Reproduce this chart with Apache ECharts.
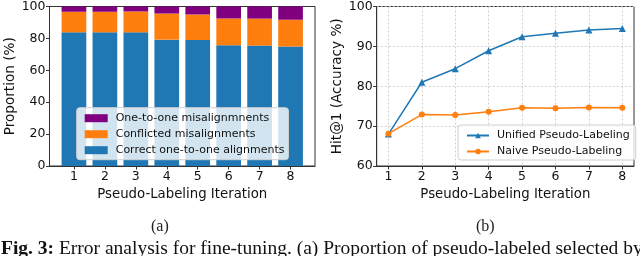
<!DOCTYPE html>
<html>
<head>
<meta charset="utf-8">
<script src="https://cdn.jsdelivr.net/npm/echarts@6/dist/echarts.min.js"></script>
<style>html,body{margin:0;padding:0;background:#fff;}#c{width:640px;height:256px;}</style>
</head>
<body>
<div id="c"></div>
<script>
const iterations = [1, 2, 3, 4, 5, 6, 7, 8];
const correctAlign = [83.8, 83.8, 83.8, 79.2, 79.0, 75.7, 75.5, 74.9];
const conflicted = [12.9, 12.9, 13.1, 16.4, 16.0, 16.8, 16.9, 16.8];
const oneToOneMis = [3.3, 3.3, 3.1, 4.4, 5.0, 7.5, 7.6, 8.3];
const unified = [68.0, 81.0, 84.4, 88.9, 92.4, 93.3, 94.1, 94.5];
const naive = [68.1, 72.9, 72.8, 73.6, 74.6, 74.5, 74.7, 74.6];
const seriesNamesA = ['One-to-one misalignmnents', 'Conflicted misalignments', 'Correct one-to-one alignments'];
const seriesNamesB = ['Unified Pseudo-Labeling', 'Naive Pseudo-Labeling'];
const xTitle = 'Pseudo-Labeling Iteration';
const yTitleA = 'Proportion (%)';
const yTitleB = 'Hit@1 (Accuracy %)';
const captionA = '(a)';
const captionB = '(b)';
const figLabel = 'Fig. 3:';
const figText = ' Error analysis for fine-tuning. (a) Proportion of pseudo-labeled selected by';

const sans = 'DejaVu Sans';
const serif = 'Liberation Serif';
const ink = '#111';
const frame = '#333';
const pair = arr => arr.map((v, i) => [iterations[i], v]);
// value first so that the stack runs on the y dimension
const pairYX = arr => arr.map((v, i) => [v, iterations[i]]);

const tickFont = {fontFamily: sans, fontSize: 12.5, color: ink};
const nameFont = {fontFamily: sans, fontSize: 13.3, color: ink};
const yNameFont = {fontFamily: sans, fontSize: 13.6, color: ink};

function xAxisFor(gi, min, max, grid) {
  return {
    type: 'value', gridIndex: gi, min: min, max: max,
    name: xTitle, nameLocation: 'middle', nameGap: 21, nameTextStyle: nameFont,
    axisLine: {show: true, lineStyle: {color: frame, width: 1}},
    axisTick: {show: true, length: 3.5, customValues: iterations, lineStyle: {color: frame}},
    axisLabel: Object.assign({customValues: iterations, margin: 4, formatter: v => String(v)}, tickFont),
    splitLine: grid ? {show: true, lineStyle: {color: '#c4c4c4', type: [2, 2], width: 0.8}} : {show: false}
  };
}

function barSeries(name, arr, color) {
  return {name: name, type: 'bar', xAxisIndex: 0, yAxisIndex: 0, stack: 'p', barWidth: 24.7,
    encode: {x: 1, y: 0}, data: pairYX(arr), itemStyle: {color: color}};
}

const chart = echarts.init(document.getElementById('c'), null, {renderer: 'canvas'});
chart.setOption({
  animation: false,
  backgroundColor: '#fff',
  grid: [
    {left: 49.5, right: 325, top: 5.7, bottom: 90, show: true, borderColor: frame, borderWidth: 1, containLabel: false},
    {left: 376.7, right: 6, top: 5.7, bottom: 90, show: true, borderColor: frame, borderWidth: 1, containLabel: false}
  ],
  xAxis: [xAxisFor(0, 0.21, 8.79, false), xAxisFor(1, 0.65, 8.35, true)],
  yAxis: [
    {type: 'value', gridIndex: 0, min: 0, max: 100, interval: 20,
     name: yTitleA, nameLocation: 'middle', nameGap: 27, nameRotate: 90, nameTextStyle: yNameFont,
     axisLine: {show: true, lineStyle: {color: frame}}, axisTick: {show: true, length: 3.5, lineStyle: {color: frame}},
     axisLabel: Object.assign({margin: 4}, tickFont), splitLine: {show: false}},
    {type: 'value', gridIndex: 1, min: 60, max: 100, interval: 10,
     name: yTitleB, nameLocation: 'middle', nameGap: 28, nameRotate: 90, nameTextStyle: yNameFont,
     axisLine: {show: true, lineStyle: {color: frame}}, axisTick: {show: true, length: 3.5, lineStyle: {color: frame}},
     axisLabel: Object.assign({margin: 4}, tickFont),
     splitLine: {show: true, lineStyle: {color: '#c4c4c4', type: [2, 2], width: 0.8}}}
  ],
  legend: [
    {data: seriesNamesA, orient: 'vertical', left: 76.7, top: 107.7,
     itemWidth: 23, itemHeight: 8, itemGap: 5, icon: 'rect',
     padding: [5, 4, 4, 8], backgroundColor: 'rgba(255,255,255,0.8)', borderColor: '#d0d0d0', borderWidth: 1, borderRadius: 3,
     textStyle: {fontFamily: sans, fontSize: 11, color: ink, padding: [0, 0, 0, 3]}},
    {data: seriesNamesB, orient: 'vertical', left: 458, top: 125,
     itemWidth: 22, itemHeight: 7, itemGap: 5,
     padding: [5, 6, 3, 8], backgroundColor: 'rgba(255,255,255,0.8)', borderColor: '#d0d0d0', borderWidth: 1, borderRadius: 3,
     textStyle: {fontFamily: sans, fontSize: 11, color: ink, padding: [0, 0, 0, 3]}}
  ],
  series: [
    barSeries(seriesNamesA[2], correctAlign, '#1f77b4'),
    barSeries(seriesNamesA[1], conflicted, '#ff7f0e'),
    barSeries(seriesNamesA[0], oneToOneMis, '#800080'),
    {name: seriesNamesB[0], type: 'line', xAxisIndex: 1, yAxisIndex: 1, data: pair(unified),
     symbol: 'triangle', symbolSize: 7, showAllSymbol: true,
     lineStyle: {color: '#1f77b4', width: 1.5}, itemStyle: {color: '#1f77b4', borderWidth: 0}},
    {name: seriesNamesB[1], type: 'line', xAxisIndex: 1, yAxisIndex: 1, data: pair(naive),
     symbol: 'circle', symbolSize: 6, showAllSymbol: true,
     lineStyle: {color: '#ff7f0e', width: 1.5}, itemStyle: {color: '#ff7f0e', borderWidth: 0}}
  ],
  graphic: [
    {type: 'text', left: 151, top: 219, style: {text: captionA, fontFamily: serif, fontSize: 16, fill: '#222'}},
    {type: 'text', left: 476, top: 219, style: {text: captionB, fontFamily: serif, fontSize: 16, fill: '#222'}},
    {type: 'text', left: 1, top: 239,
     style: {text: '{b|' + figLabel + '}' + figText, fontFamily: serif, fontSize: 19.5, fill: '#111',
       rich: {b: {fontWeight: 'bold', fontFamily: serif, fontSize: 19.5, fill: '#111'}}}}
  ]
});
</script>
</body>
</html>
